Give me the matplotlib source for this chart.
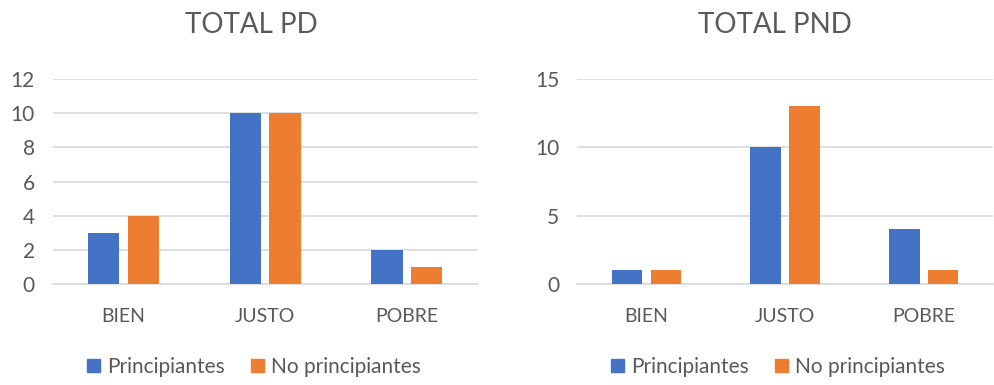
import numpy as np
import matplotlib.pyplot as plt
from matplotlib.patches import Patch

plt.rcParams['font.family'] = ['Lato', 'DejaVu Sans']

categories = ['BIEN', 'JUSTO', 'POBRE']
series = ['Principiantes', 'No principiantes']
pd_princ = [3, 10, 2]
pd_no = [4, 10, 1]
pnd_princ = [1, 10, 4]
pnd_no = [1, 13, 1]

BLUE = '#4472C4'
ORANGE = '#ED7D31'
TEXT = '#595959'
GRID = '#D9D9D9'

fig = plt.figure(figsize=(9.95, 3.85), dpi=100)
ax1 = fig.add_axes([0.053, 0.262, 0.427, 0.533])
ax2 = fig.add_axes([0.580, 0.262, 0.418, 0.533])

panels = [
    (ax1, 'TOTAL PD', pd_princ, pd_no, 12, np.arange(0, 13, 2), 251, 254),
    (ax2, 'TOTAL PND', pnd_princ, pnd_no, 15, np.arange(0, 16, 5), 775, 778),
]

x = np.arange(len(categories))
w = 0.22
off = 0.14

for ax, title, a, b, ymax, ticks, tx, lx in panels:
    ax.bar(x - off, a, w, color=BLUE, zorder=3)
    ax.bar(x + off, b, w, color=ORANGE, zorder=3)
    ax.set_xlim(-0.5, 2.5)
    ax.set_ylim(0, ymax)
    ax.set_yticks(ticks)
    ax.set_xticks(x)
    ax.set_xticklabels(categories)
    ax.grid(axis='y', color=GRID, lw=1.2, zorder=0)
    for s in ['top', 'right', 'left']:
        ax.spines[s].set_visible(False)
    ax.spines['bottom'].set_color(GRID)
    ax.spines['bottom'].set_linewidth(1.2)
    ax.tick_params(axis='both', length=0, colors=TEXT, labelsize=14)
    ax.tick_params(axis='y', labelsize=15, pad=13)
    ax.tick_params(axis='x', pad=17)
    fig.text(tx / 995, 1 - 25 / 385, title, ha='center', va='center',
             fontsize=20, color=TEXT)
    handles = [Patch(color=BLUE), Patch(color=ORANGE)]
    fig.legend(handles, series, loc='center',
               bbox_to_anchor=(lx / 995, 1 - 367 / 385),
               ncol=2, frameon=False, fontsize=15, labelcolor=TEXT,
               handlelength=0.62, handleheight=0.62, handletextpad=0.3,
               columnspacing=1.3)

fig.savefig('out.png', dpi=100)
